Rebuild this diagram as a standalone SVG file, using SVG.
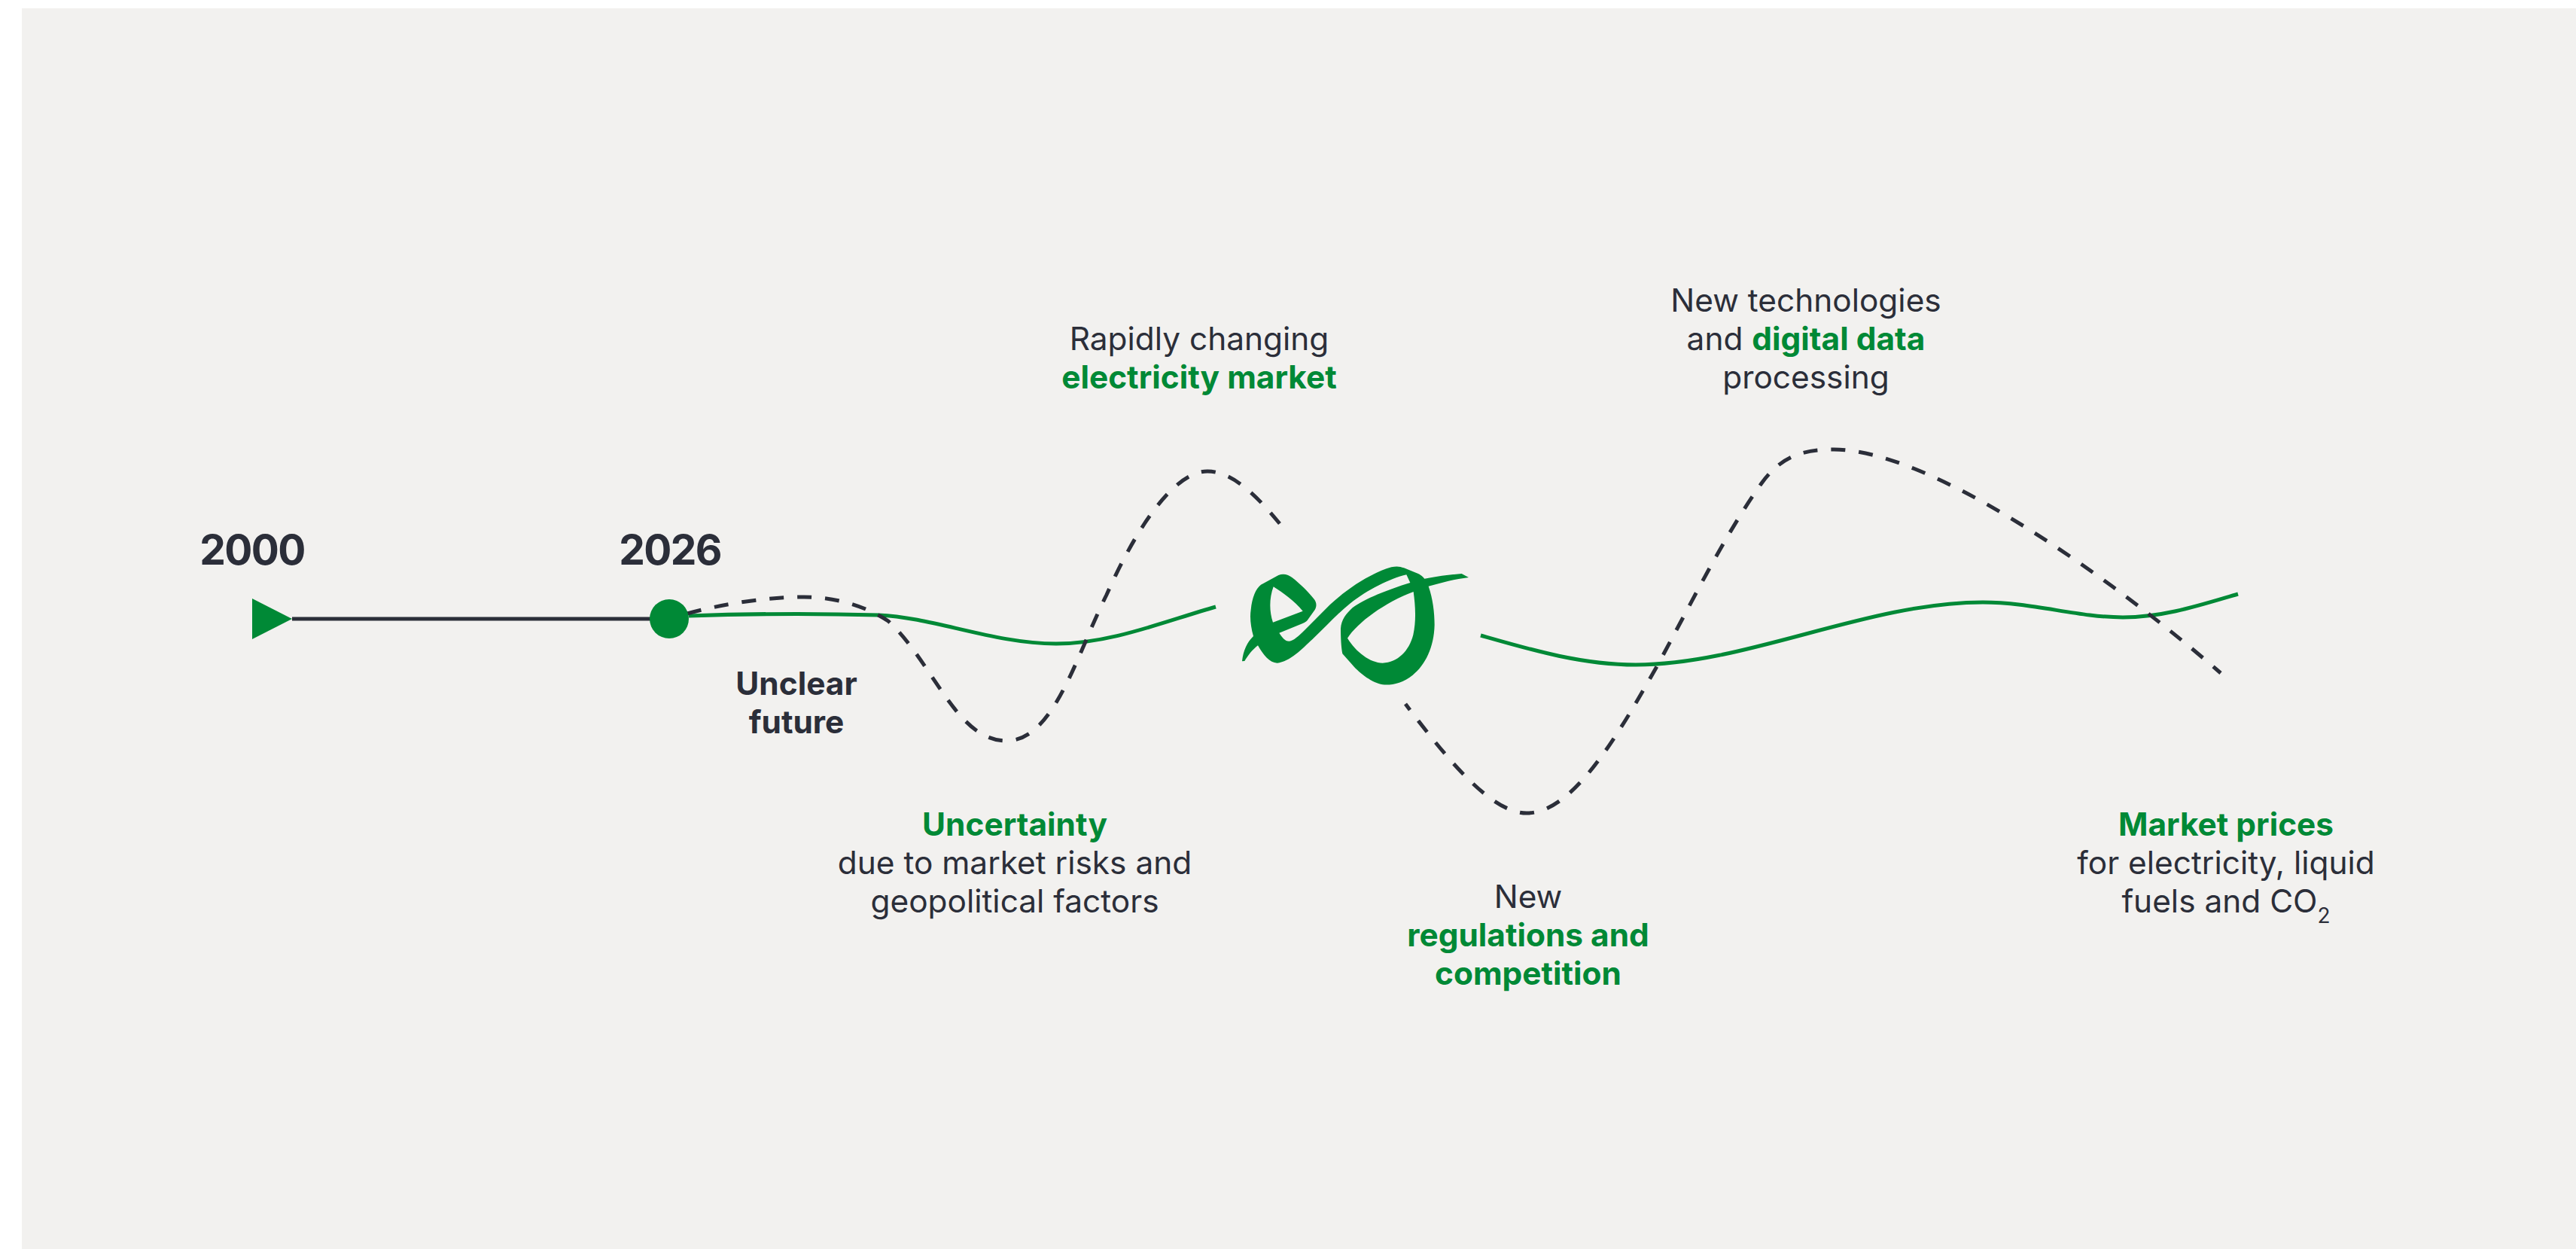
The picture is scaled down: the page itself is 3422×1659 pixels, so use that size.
<svg xmlns="http://www.w3.org/2000/svg" width="3422" height="1659" viewBox="0 0 3422 1659">
<style>
.t{font-family:Inter,"Liberation Sans",sans-serif;font-size:42.4px;fill:#2b2e39;text-anchor:middle}
.g{fill:#008936;font-weight:700}
.b{font-weight:700}
.y{font-size:55px;font-weight:700;letter-spacing:-1.6px}
.line{fill:none;stroke:#008936;stroke-width:5}
.dash{fill:none;stroke:#2b2e39;stroke-width:5;stroke-dasharray:19 18}
</style>
<rect width="3422" height="1659" fill="#ffffff"/>
<rect x="29" y="11" width="3393" height="1648" fill="#f2f1ef"/>
<g id="connectors">
<path d="M388 822H865" fill="none" stroke="#2b2e39" stroke-width="5"/>
<path class="line" d="M915 818C1000 815 1100 815 1167 817C1240 820 1320 855 1403 855C1475 855 1545 826 1615 806"/>
<path class="line" d="M1967 844C2030 862 2100 883 2173 883C2320 883 2480 800 2634 800C2700 800 2760 820 2820 820C2875 820 2925 803 2973 789"/>
<path class="dash" d="M913 815C960 802 1020 793 1068 793C1110 793 1150 805 1180 825C1240 880 1270 984 1337 984C1400 984 1430 870 1470 790C1510 700 1560 626 1604 626C1640 626 1675 665 1702 698"/>
<path class="dash" style="stroke-dashoffset:9" d="M1867 935C1920 1005 1980 1080 2028 1080C2090 1080 2150 975 2200 887C2245 805 2290 712 2340 642C2368 603 2400 597 2436 597C2560 597 2790 755 2950 894"/>
</g>
<g id="start-marker"><path d="M335 795V849L388 822Z" fill="#008936"/></g>
<g id="now-marker"><circle cx="889" cy="822" r="26" fill="#008936"/></g>
<g id="logo"><path transform="translate(1600 720) scale(.33333)" fill="#008936" fill-rule="evenodd" d="M150 475C155 430 170 400 195 375C185 340 180 300 185 270C190 220 205 185 225 170L295 132C315 123 335 130 350 142C380 165 415 200 435 225C448 240 448 255 440 270L410 312C405 318 400 320 390 325L298 362C310 380 320 395 338 395C355 393 375 375 400 350L500 250C570 185 660 125 745 100C765 95 780 97 795 103L850 125C862 130 870 138 877 146C920 138 970 130 1025 126L1053 141C1000 147 945 162 893 176C910 225 917 280 917 330C915 420 880 490 830 530C790 562 745 572 710 568C670 562 620 525 590 490L550 445C545 420 543 380 543 345C545 310 565 285 590 262C640 225 730 190 820 162L805 130C740 145 650 190 580 245C530 285 480 340 430 388C390 425 340 478 290 482C260 482 235 450 213 412C190 430 175 450 160 474ZM275 178C310 200 360 235 392 275L273 320C258 275 258 225 275 178ZM833 198C840 250 845 310 832 370C815 435 770 480 710 482C660 480 605 440 570 383C610 320 720 240 833 198Z"/></g>
<g id="label-2000"><text class="t y" x="335" y="750">2000</text></g>
<g id="label-2026"><text class="t y" x="890" y="750">2026</text></g>
<g id="label-unclear"><text class="t b" x="1058" y="923">Unclear</text><text class="t b" x="1058" y="974">future</text></g>
<g id="label-uncertainty"><text class="t g" x="1348" y="1110" style="fill:#008936">Uncertainty</text><text class="t" x="1348" y="1161">due to market risks and</text><text class="t" x="1348" y="1212">geopolitical factors</text></g>
<g id="label-market"><text class="t" x="1593" y="465">Rapidly changing</text><text class="t g" x="1593" y="516" style="fill:#008936">electricity market</text></g>
<g id="label-regulations"><text class="t" x="2030" y="1206">New</text><text class="t g" x="2030" y="1257" style="fill:#008936">regulations and</text><text class="t g" x="2030" y="1308" style="fill:#008936">competition</text></g>
<g id="label-technologies"><text class="t" x="2399" y="414">New technologies</text><text class="t" x="2399" y="465">and <tspan class="g" style="fill:#008936">digital data</tspan></text><text class="t" x="2399" y="516">processing</text></g>
<g id="label-prices"><text class="t g" x="2957" y="1110" style="fill:#008936">Market prices</text><text class="t" x="2957" y="1161">for electricity, liquid</text><text class="t" x="2957" y="1212">fuels and CO<tspan font-size="28" dy="14">2</tspan></text></g>
</svg>
